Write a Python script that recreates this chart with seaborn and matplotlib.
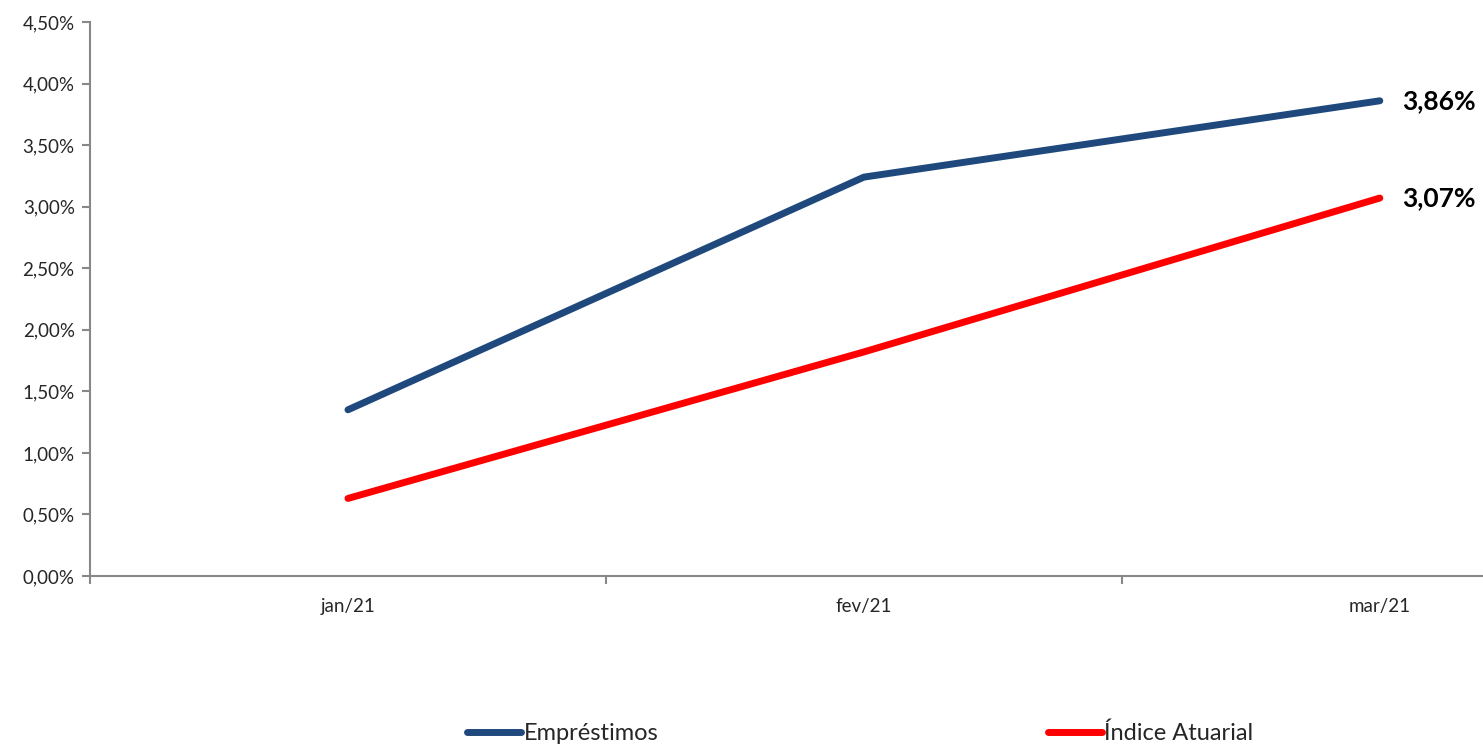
import matplotlib
matplotlib.use("Agg")
import matplotlib.pyplot as plt
import matplotlib.ticker as mticker
import pandas as pd
import seaborn as sns

# dados do grafico
meses = ["jan/21", "fev/21", "mar/21"]
emprestimos = [1.35, 3.24, 3.86]
indice_atuarial = [0.63, 1.82, 3.07]
series = ["Empréstimos", "Índice Atuarial"]
cores = ["#1F497D", "#FF0000"]

df = pd.DataFrame({
    "mes": meses * 2,
    "x": list(range(len(meses))) * 2,
    "valor": emprestimos + indice_atuarial,
    "serie": [series[0]] * len(meses) + [series[1]] * len(meses),
})

sns.set_style("white")
plt.rcParams["font.family"] = ["Lato", "DejaVu Sans"]

fig = plt.figure(figsize=(14.83, 7.47), dpi=100)
ax = fig.add_axes([90 / 1483, 1 - 576 / 747, 1 - 90 / 1483, (576 - 22) / 747])

sns.lineplot(
    data=df, x="x", y="valor", hue="serie",
    palette=dict(zip(series, cores)),
    linewidth=5, ax=ax, legend=False,
    solid_capstyle="round",
)

ax.set_ylim(0, 4.5)
ax.set_xlim(-0.5, 2.2)
ax.yaxis.set_major_locator(mticker.MultipleLocator(0.5))
ax.yaxis.set_major_formatter(mticker.FuncFormatter(lambda v, p: f"{v:.2f}%".replace(".", ",")))
ax.set_xticks(range(len(meses)))
ax.set_xticklabels(meses)
ax.set_xticks([-0.5, 0.5, 1.5], minor=True)
ax.tick_params(axis="x", which="major", bottom=False, length=0, pad=16, labelsize=13.5)
ax.tick_params(axis="x", which="minor", bottom=True, length=6, width=1.5, color="#888888", direction="out")
ax.tick_params(axis="y", left=True, length=6, width=1.5, color="#888888", direction="out", labelsize=13.5, pad=5)
ax.set_xlabel("")
ax.set_ylabel("")

for s in ["top", "right"]:
    ax.spines[s].set_visible(False)
for s in ["left", "bottom"]:
    ax.spines[s].set_color("#888888")
    ax.spines[s].set_linewidth(1.5)

# rotulos do ultimo ponto
for vals in [emprestimos, indice_atuarial]:
    ax.annotate(f"{vals[-1]:.2f}%".replace(".", ","), (len(meses) - 1, vals[-1]),
                xytext=(16, 0), textcoords="offset points",
                ha="left", va="center", fontsize=19, fontweight="bold", color="black")

handles = [plt.Line2D([], [], color=c, lw=5, solid_capstyle="round") for c in cores]
fig.legend(handles, series, loc="center", bbox_to_anchor=(0.580, 0.018), ncol=2,
           frameon=False, fontsize=17, handlelength=2.3, handletextpad=0.1,
           columnspacing=16.5)

fig.savefig("out.png", dpi=100)
